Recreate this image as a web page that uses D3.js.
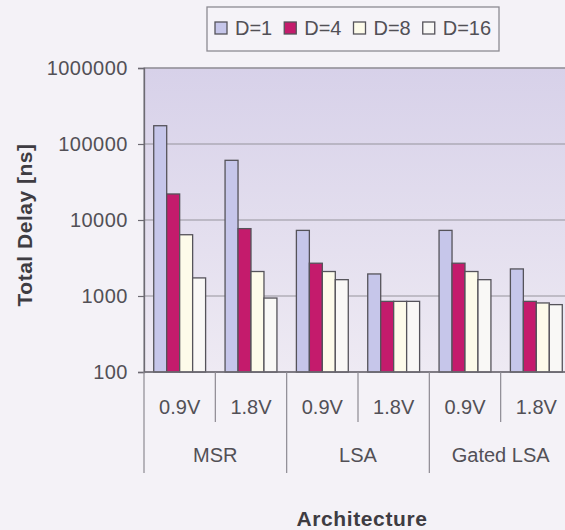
<!DOCTYPE html>
<html>
<head>
<meta charset="utf-8">
<script src="https://cdn.jsdelivr.net/npm/d3@7"></script>
<style>
  html, body { margin: 0; padding: 0; background: #f4f2f7; }
  svg { display: block; font-family: "Liberation Sans", Arial, sans-serif; }
</style>
</head>
<body>
<svg id="chart" width="565" height="530"></svg>
<script>
// Architectures, supply voltages and delay series (ns)
const architectures = ["MSR", "LSA", "Gated LSA"];
const voltages = ["0.9V", "1.8V"];
const seriesNames = ["D=1", "D=4", "D=8", "D=16"];
const seriesColors = ["#c6c6ea", "#c41b6c", "#fdfbea", "#f9f8f6"];

// one value per architecture/voltage pair, in order MSR 0.9V, MSR 1.8V, LSA 0.9V, ...
const delayD1  = [174000, 61000, 7300, 1950, 7300, 2270];
const delayD4  = [22000, 7700, 2700, 850, 2700, 850];
const delayD8  = [6400, 2100, 2100, 850, 2100, 810];
const delayD16 = [1730, 940, 1640, 850, 1640, 770];
const seriesValues = [delayD1, delayD4, delayD8, delayD16];

const yTicks = [100, 1000, 10000, 100000, 1000000];

const svg = d3.select("#chart");
const plot = { left: 144, top: 68, right: 572, bottom: 372 };
const textColor = "#525056";

// category keys for the inner (voltage) level
const cats = [];
architectures.forEach(a => voltages.forEach(v => cats.push({ arch: a, volt: v, key: a + "|" + v })));

const x0 = d3.scaleBand().domain(cats.map(c => c.key)).range([plot.left, plot.right]).paddingInner(0).paddingOuter(0);
const x1 = d3.scaleBand().domain(seriesNames).range([0, x0.bandwidth()]).paddingInner(0).paddingOuter(0.75);
const y = d3.scaleLog().domain([100, 1000000]).range([plot.bottom, plot.top]);

// plot area background
const defs = svg.append("defs");
const grad = defs.append("linearGradient").attr("id", "bg").attr("x1", 0).attr("y1", 0).attr("x2", 0).attr("y2", 1);
grad.append("stop").attr("offset", "0%").attr("stop-color", "#d7d1e9");
grad.append("stop").attr("offset", "100%").attr("stop-color", "#eeeaf3");

svg.append("rect")
  .attr("x", plot.left).attr("y", plot.top)
  .attr("width", plot.right - plot.left).attr("height", plot.bottom - plot.top)
  .attr("fill", "url(#bg)")
  .attr("stroke", "#8c8a92").attr("stroke-width", 1.2);

// horizontal grid lines
svg.append("g").selectAll("line")
  .data(yTicks.slice(1))
  .join("line")
  .attr("x1", plot.left).attr("x2", plot.right)
  .attr("y1", d => y(d)).attr("y2", d => y(d))
  .attr("stroke", "#96949c").attr("stroke-width", 1.2);

// bars
const barData = [];
cats.forEach((c, i) => seriesNames.forEach((s, j) => barData.push({ key: c.key, s, j, v: seriesValues[j][i] })));
svg.append("g").selectAll("rect")
  .data(barData)
  .join("rect")
  .attr("x", d => x0(d.key) + x1(d.s))
  .attr("y", d => y(d.v))
  .attr("width", x1.bandwidth())
  .attr("height", d => plot.bottom - y(d.v))
  .attr("fill", d => seriesColors[d.j])
  .attr("stroke", "#55535a").attr("stroke-width", 1.3);

// y axis
const yAxis = d3.axisLeft(y).tickValues(yTicks).tickFormat(d3.format("d")).tickSize(6).tickPadding(10);
const gy = svg.append("g").attr("transform", `translate(${plot.left},0)`).call(yAxis);
gy.select(".domain").attr("stroke", "#6c6a72").attr("stroke-width", 1.3);
gy.selectAll(".tick line").attr("stroke", "#6c6a72").attr("stroke-width", 1.2);
gy.selectAll(".tick text").attr("fill", textColor).attr("font-size", 20)
  .attr("letter-spacing", 0.5)
  .attr("font-family", "Liberation Sans, Arial, sans-serif");

// x axis line
svg.append("line").attr("x1", plot.left).attr("x2", plot.right)
  .attr("y1", plot.bottom).attr("y2", plot.bottom)
  .attr("stroke", "#6c6a72").attr("stroke-width", 1.3);

// category separators: short ones between voltages, long ones between architectures
const gx = svg.append("g");
cats.forEach((c, i) => {
  const xs = x0(c.key);
  const isArchStart = i % voltages.length === 0;
  gx.append("line").attr("x1", xs).attr("x2", xs)
    .attr("y1", plot.bottom).attr("y2", isArchStart ? 473 : 422)
    .attr("stroke", "#8c8a92").attr("stroke-width", 1.2);
});
gx.append("line").attr("x1", plot.right).attr("x2", plot.right)
  .attr("y1", plot.bottom).attr("y2", 473)
  .attr("stroke", "#8c8a92").attr("stroke-width", 1.2);

// voltage labels
gx.selectAll("text.volt")
  .data(cats)
  .join("text")
  .attr("class", "volt")
  .attr("x", d => x0(d.key) + x0.bandwidth() / 2)
  .attr("y", 414)
  .attr("text-anchor", "middle")
  .attr("font-size", 20)
  .attr("fill", textColor)
  .text(d => d.volt);

// architecture labels
const archW = x0.bandwidth() * voltages.length;
gx.selectAll("text.arch")
  .data(architectures)
  .join("text")
  .attr("class", "arch")
  .attr("x", (d, i) => plot.left + archW * i + archW / 2)
  .attr("y", 462)
  .attr("text-anchor", "middle")
  .attr("font-size", 20)
  .attr("fill", textColor)
  .text(d => d);

// axis titles
svg.append("text")
  .attr("x", 362).attr("y", 526)
  .attr("text-anchor", "middle")
  .attr("font-size", 21).attr("font-weight", "bold")
  .attr("letter-spacing", 0.6)
  .attr("fill", "#3e3c42")
  .text("Architecture");

svg.append("text")
  .attr("transform", "translate(32,225) rotate(-90)")
  .attr("text-anchor", "middle")
  .attr("font-size", 21).attr("font-weight", "bold")
  .attr("letter-spacing", 0.5)
  .attr("fill", "#3e3c42")
  .text("Total Delay [ns]");

// legend
const lg = svg.append("g");
lg.append("rect")
  .attr("x", 207).attr("y", 7).attr("width", 292).attr("height", 44)
  .attr("fill", "#f5f3f8").attr("stroke", "#8c8a92").attr("stroke-width", 1.3);
let lx = 215;
seriesNames.forEach((s, j) => {
  lg.append("rect")
    .attr("x", lx).attr("y", 22).attr("width", 12).attr("height", 12)
    .attr("fill", seriesColors[j]).attr("stroke", "#55535a").attr("stroke-width", 1.3);
  const t = lg.append("text")
    .attr("x", lx + 20).attr("y", 35)
    .attr("font-size", 20).attr("fill", textColor)
    .text(s);
  lx += 20 + t.node().getComputedTextLength() + 12;
});
</script>
</body>
</html>
